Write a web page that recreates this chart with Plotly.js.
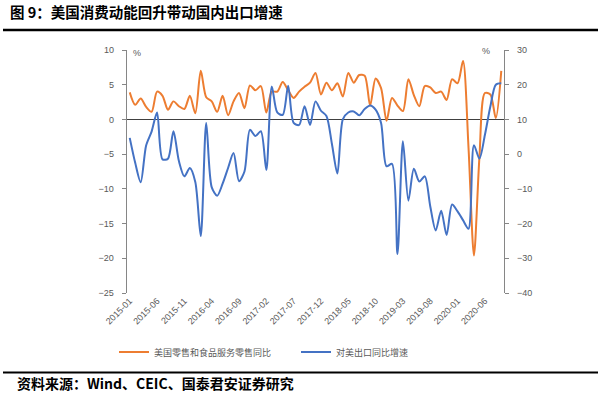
<!DOCTYPE html>
<html>
<head>
<meta charset="utf-8">
<script src="https://cdn.plot.ly/plotly-3.0.1.min.js"></script>
<style>html,body{margin:0;padding:0;background:#fff;}#chart{width:600px;height:393px;}</style>
</head>
<body>
<div id="chart"></div>
<script>
// Categories (monthly, 2015-01 .. 2020-09)
const months = [
  "2015-01","2015-02","2015-03","2015-04","2015-05","2015-06","2015-07","2015-08","2015-09","2015-10","2015-11","2015-12",
  "2016-01","2016-02","2016-03","2016-04","2016-05","2016-06","2016-07","2016-08","2016-09","2016-10","2016-11","2016-12",
  "2017-01","2017-02","2017-03","2017-04","2017-05","2017-06","2017-07","2017-08","2017-09","2017-10","2017-11","2017-12",
  "2018-01","2018-02","2018-03","2018-04","2018-05","2018-06","2018-07","2018-08","2018-09","2018-10","2018-11","2018-12",
  "2019-01","2019-02","2019-03","2019-04","2019-05","2019-06","2019-07","2019-08","2019-09","2019-10","2019-11","2019-12",
  "2020-01","2020-02","2020-03","2020-04","2020-05","2020-06","2020-07","2020-08","2020-09"
];
const tickLabels = ["2015-01","2015-06","2015-11","2016-04","2016-09","2017-02","2017-07","2017-12","2018-05","2018-10","2019-03","2019-08","2020-01","2020-06"];

// 美国零售和食品服务零售同比 (left axis, %)
const usRetail = [
  3.9, 2.1, 3.0, 1.8, 1.1, 4.0, 3.4, 1.4, 2.6, 1.9, 1.5, 3.4,
  0.9, 7.0, 3.2, 2.6, 1.1, 3.4, 0.6, 2.6, 3.8, 1.6, 4.9, 4.2,
  4.8, 1.0, 4.0, 4.0, 5.4, 4.2, 3.1, 4.0, 4.7, 5.3, 6.7, 3.6,
  5.3, 4.2, 5.2, 3.3, 6.7, 5.3, 6.4, 6.3, 2.0, 5.9, 4.5, -0.2,
  3.1, 2.0, 1.2, 5.8, 3.5, 1.9, 4.8, 4.6, 3.8, 4.0, 2.8, 5.8,
  5.2, 8.4, -4.0, -19.6, -5.5, 3.8, 3.6, 0.2, 7.0
];
// 对美出口同比增速 (right axis, %)
const exportsToUS = [
  4.7, -2.5, -8.1, 2.5, 6.5, 12.0, -1.5, -1.3, 6.6, -2.0, -6.4, -4.0,
  -8.0, -23.6, 9.0, -9.5, -12.0, -8.5, -4.0, 0.3, -7.8, -5.0, 7.0, 5.2,
  6.6, -4.6, 19.5, 12.0, 11.3, 19.7, 9.0, 8.4, 13.8, 8.4, 15.2, 12.5,
  11.0, 3.0, -5.6, 10.0, 12.0, 12.3, 11.2, 13.0, 14.0, 12.8, 9.0, -3.5,
  -2.8, -28.8, 3.7, -13.4, -4.2, -7.9, -6.4, -15.0, -22.0, -16.3, -23.3, -14.5,
  -16.5, -19.0, -21.5, 2.6, -1.3, 5.5, 13.7, 20.0, 20.4
];

const seriesNames = ["美国零售和食品服务零售同比", "对美出口同比增速"];

const axisFont = {family: "Liberation Sans, Arial, sans-serif", size: 9, color: "#595959"};
const cjk = "Noto Sans CJK SC, sans-serif";

const traces = [
  {
    x: months, y: usRetail, name: seriesNames[0], type: "scatter", mode: "lines",
    line: {color: "#ED7D31", width: 2, shape: "spline", smoothing: 0.8},
    yaxis: "y", hoverinfo: "skip"
  },
  {
    x: months, y: exportsToUS, name: seriesNames[1], type: "scatter", mode: "lines",
    line: {color: "#4472C4", width: 2, shape: "spline", smoothing: 0.8},
    yaxis: "y2", hoverinfo: "skip"
  }
];

const layout = {
  width: 600, height: 393,
  margin: {l: 127, r: 96, t: 50, b: 100, pad: 0},
  paper_bgcolor: "#fff", plot_bgcolor: "#fff",
  title: {
    text: "<b>图 9：美国消费动能回升带动国内出口增速</b>",
    font: {family: cjk, size: 14.5, color: "#000"},
    x: 10/600, xanchor: "left", xref: "container",
    y: 1 - 13/393, yanchor: "middle", yref: "container"
  },
  xaxis: {
    type: "category", range: [-0.5, months.length - 0.5],
    tickmode: "array", tickvals: tickLabels, ticktext: tickLabels,
    tickangle: -45, tickfont: axisFont, showgrid: false, showline: false,
    ticks: "", zeroline: false, fixedrange: true
  },
  yaxis: {
    range: [-25, 10], dtick: 5, tick0: 0, showgrid: false,
    showline: true, linecolor: "#868686", linewidth: 1.3,
    ticks: "outside", ticklen: 4, tickcolor: "#868686", tickwidth: 1,
    tickfont: axisFont, zeroline: true, zerolinecolor: "#404040", zerolinewidth: 1.3,
    ticklabelstandoff: 6, fixedrange: true
  },
  yaxis2: {
    range: [-40, 30], dtick: 10, tick0: 0, overlaying: "y", side: "right",
    showgrid: false, showline: true, linecolor: "#868686", linewidth: 1.3,
    ticks: "outside", ticklen: 4, tickcolor: "#868686", tickwidth: 1,
    tickfont: axisFont, zeroline: false, ticklabelstandoff: 6, fixedrange: true
  },
  showlegend: true,
  legend: {
    orientation: "h", x: (114-127)/377, xanchor: "left",
    y: (293-352)/243, yanchor: "middle",
    font: {family: cjk, size: 9, color: "#595959"},
    entrywidth: 137, entrywidthmode: "pixels",
    bgcolor: "rgba(0,0,0,0)"
  },
  shapes: [
    {type: "line", xref: "paper", yref: "paper", x0: (3-127)/377, x1: (598-127)/377,
     y0: (293-30)/243, y1: (293-30)/243, line: {color: "#000", width: 2.5}},
    {type: "line", xref: "paper", yref: "paper", x0: (3-127)/377, x1: (598-127)/377,
     y0: (293-372.5)/243, y1: (293-372.5)/243, line: {color: "#000", width: 2}}
  ],
  annotations: [
    {text: "%", xref: "paper", yref: "paper", x: (137-127)/377, y: (293-52.5)/243,
     xanchor: "center", yanchor: "middle", showarrow: false, font: axisFont},
    {text: "%", xref: "paper", yref: "paper", x: (486-127)/377, y: (293-51)/243,
     xanchor: "center", yanchor: "middle", showarrow: false, font: axisFont},
    {text: "<b>资料来源：Wind、CEIC、国泰君安证券研究</b>", xref: "paper", yref: "paper",
     x: (15-127)/377, y: (293-383)/243, xanchor: "left", yanchor: "middle", showarrow: false,
     font: {family: cjk, size: 14, color: "#000"}}
  ]
};

Plotly.newPlot("chart", traces, layout, {displayModeBar: false, staticPlot: true});
</script>
</body>
</html>
